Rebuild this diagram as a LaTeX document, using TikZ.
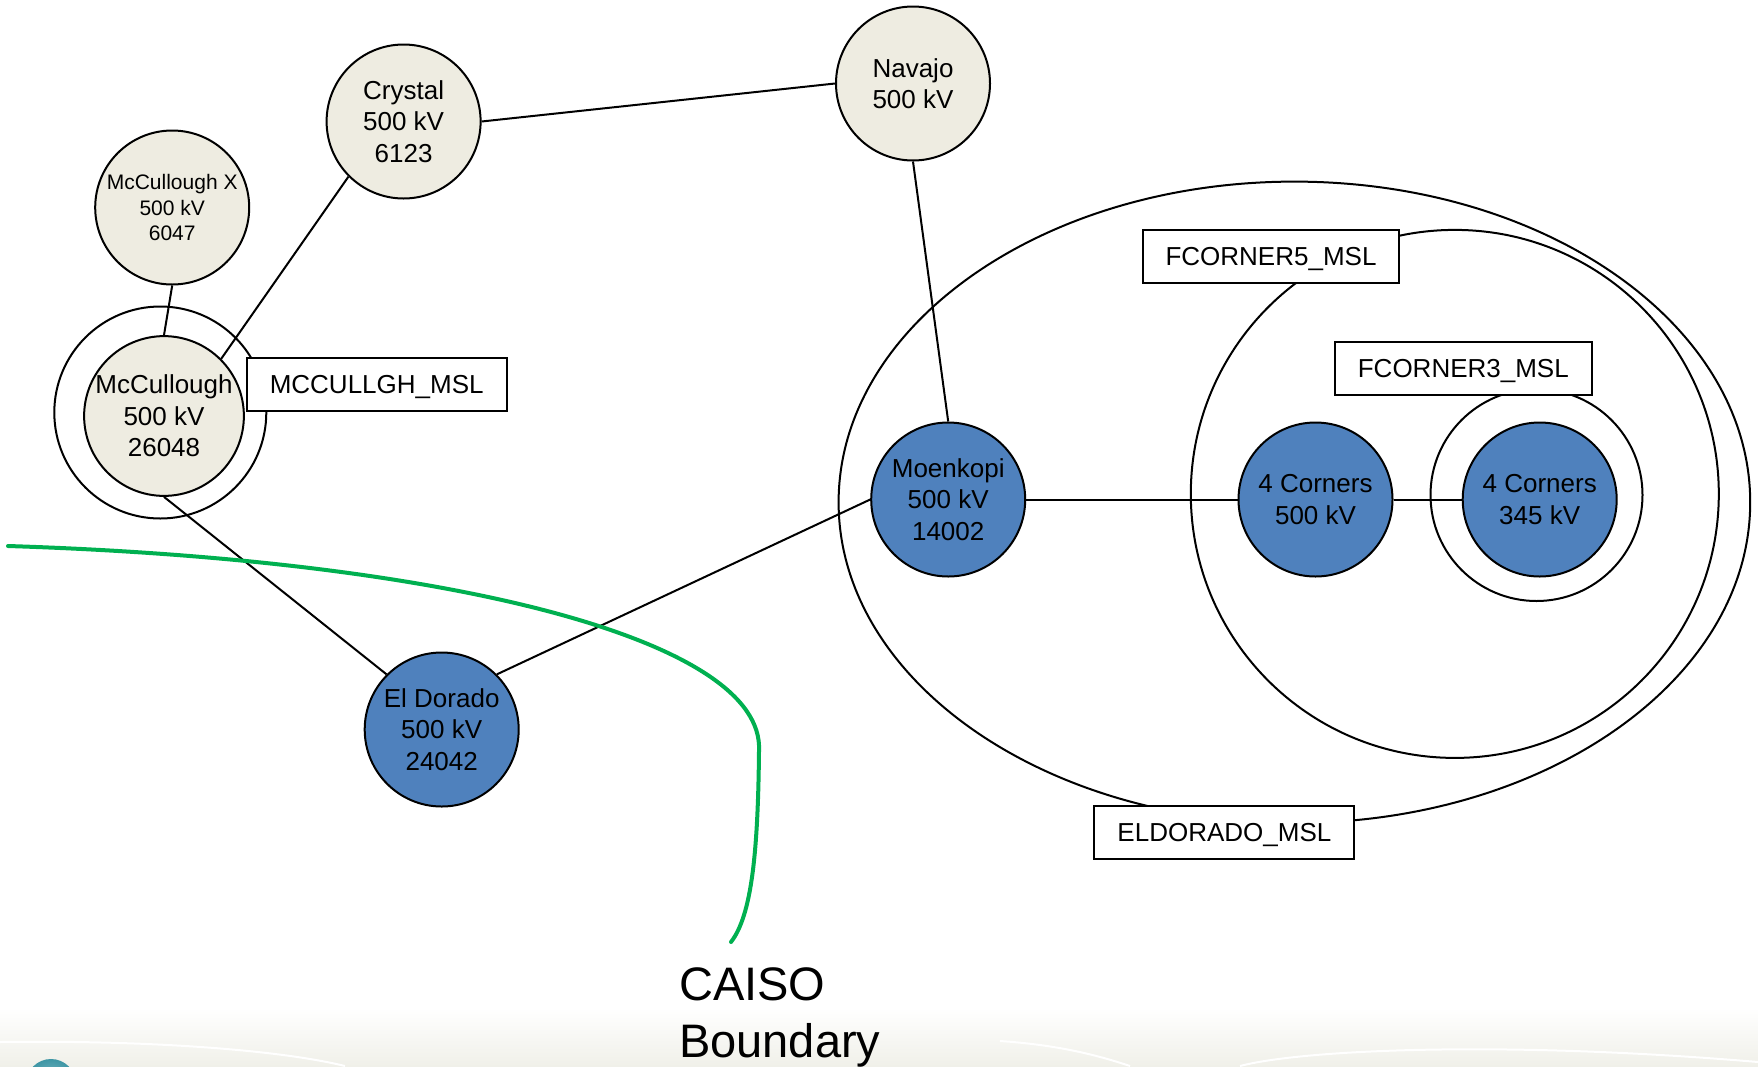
\documentclass[tikz,border=0pt]{standalone}
\usepackage{fontspec}
\setmainfont{Liberation Sans}
\definecolor{tanc}{RGB}{238,236,225}
\definecolor{bluec}{RGB}{79,129,189}
\definecolor{caisogreen}{RGB}{0,176,80}
\definecolor{bandc}{RGB}{240,240,233}
\definecolor{logoc}{RGB}{62,150,165}
\begin{document}
\begin{tikzpicture}[x=1pt,y=-1pt,
  bus/.style={circle,draw,line width=2pt,minimum size=154pt,inner sep=0pt,align=center,
    font=\fontsize{26}{31.4}\selectfont},
  tanbus/.style={bus,fill=tanc},
  bluebus/.style={bus,fill=bluec},
  ring/.style={draw,line width=2pt},
  lab/.style={draw,fill=white,line width=2pt,minimum height=53.5pt,inner sep=0pt,
    text height=18.6pt,text depth=0pt,font=\fontsize{26}{31}\selectfont},
  conn/.style={line width=2pt}
]
\useasboundingbox (0,0) rectangle (1758,1066);
% background band
\begin{scope}
  \clip (0,0) rectangle (1758,1066);
  \shade[top color=white,bottom color=bandc] (0,1008) rectangle (1758,1066);
  \draw[white,line width=2pt] (0,1042) .. controls (150,1040) and (280,1050) .. (345,1066);
  \draw[white,line width=2pt] (1000,1041) .. controls (1060,1045) and (1100,1056) .. (1130,1066);
  \draw[white,line width=2pt] (1240,1066) .. controls (1300,1050) and (1500,1040) .. (1758,1062);
  \shade[inner color=logoc!60,outer color=logoc] (51,1084) circle [radius=25pt];
\end{scope}
% grouping outlines
\draw[ring] (1294.4,502.3) ellipse [x radius=455.8pt, y radius=320.7pt];
\draw[ring] (1454.8,493.9) circle [radius=264pt];
\draw[ring] (1536.5,495) circle [radius=106pt];
\draw[ring] (160.3,412.5) circle [radius=106pt];
% buses
\node[tanbus] (nav) at (913,83.5) {Navajo\\500 kV};
\node[tanbus] (cry) at (403.6,121.5) {Crystal\\500 kV\\6123};
\node[tanbus,font=\fontsize{21}{25.8}\selectfont] (mcx) at (172.2,207.5) {McCullough X\\500 kV\\6047};
\node[tanbus] (mcc) at (164,416) {McCullough\\500 kV\\26048};
\node[bluebus] (eld) at (441.7,729.5) {El Dorado\\500 kV\\24042};
\node[bluebus] (moe) at (948.2,499.5) {Moenkopi\\500 kV\\14002};
\node[bluebus] (fc5) at (1315.5,499.5) {4 Corners\\500 kV};
\node[bluebus] (fc3) at (1539.7,499.5) {4 Corners\\345 kV};
% connectors
\draw[conn] (cry.east) -- (nav.west);
\draw[conn] (nav.south) -- (moe.north);
\draw[conn] (mcx.south) -- (mcc.north);
\draw[conn] (cry.south west) -- (mcc.north east);
\draw[conn] (mcc.south) -- (eld.north west);
\draw[conn] (eld.north east) -- (moe.west);
\draw[conn] (moe.east) -- (fc5.west);
\draw[conn] (fc5.east) -- (fc3.west);
% labels
\node[lab,minimum width=260pt] (lmcc) at (376.7,384.4) {MCCULLGH\_MSL};
\node[lab,minimum width=256.6pt] (lfc5) at (1271,256.3) {FCORNER5\_MSL};
\node[lab,minimum width=257pt] (lfc3) at (1463.3,368.5) {FCORNER3\_MSL};
\node[lab,minimum width=260pt] (leld) at (1224.4,832.5) {ELDORADO\_MSL};
% CAISO boundary
\draw[caisogreen,line width=4pt,line cap=round]
  (8,546) .. controls (450,560) and (765,640) .. (759,751)
  .. controls (758,850) and (752,915) .. (731,942);
\node[anchor=base west,align=left,inner sep=0pt,font=\fontsize{47}{56.7}\selectfont] (caiso) at (679,1057) {CAISO\\Boundary};
\end{tikzpicture}
\end{document}
